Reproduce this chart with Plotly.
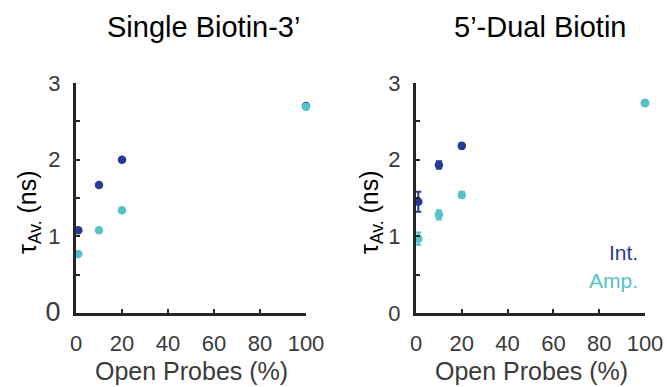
import plotly.graph_objects as go

# ---- data ----
open_probes = [1, 10, 20, 100]
single_int = [1.08, 1.67, 2.00, 2.70]
single_amp = [0.77, 1.08, 1.34, 2.69]
dual_int = [1.45, 1.93, 2.18, 2.74]
dual_int_err = [0.13, 0.05, 0.03, 0.02]
dual_amp = [0.97, 1.28, 1.54, 2.74]
dual_amp_err = [0.08, 0.06, 0.04, 0.02]

panel_titles = ["Single Biotin-3\u2019", "5\u2019-Dual Biotin"]
x_tickvals = [0, 20, 40, 60, 80, 100]
y_tickvals = [0, 0.5, 1, 1.5, 2, 2.5, 3]
y_ticktext_left = ['<span style="font-size:27px">0</span>', "", "1", "", "2", "", "3"]
y_ticktext_right = ["0", "", "1", "", "2", "", "3"]

INT_C = "#283a94"
AMP_C = "#52c4c8"
AX_C = "#262626"
TICK_C = "#3a3a3a"
W, H = 667, 387

def px_x(p):
    return p / W

def px_y(p):
    return 1 - p / H

fig = go.Figure()

fig.add_trace(go.Scatter(x=open_probes, y=single_int, mode="markers", xaxis="x", yaxis="y",
                         marker=dict(color=INT_C, size=8.5), cliponaxis=False, showlegend=False))
fig.add_trace(go.Scatter(x=open_probes, y=single_amp, mode="markers", xaxis="x", yaxis="y",
                         marker=dict(color=AMP_C, size=8.5), cliponaxis=False, showlegend=False))
fig.add_trace(go.Scatter(x=open_probes, y=dual_int, mode="markers", xaxis="x2", yaxis="y2",
                         error_y=dict(type="data", array=dual_int_err, color=INT_C, thickness=2, width=3),
                         marker=dict(color=INT_C, size=8.5), cliponaxis=False, showlegend=False))
fig.add_trace(go.Scatter(x=open_probes, y=dual_amp, mode="markers", xaxis="x2", yaxis="y2",
                         error_y=dict(type="data", array=dual_amp_err, color=AMP_C, thickness=2, width=3),
                         marker=dict(color=AMP_C, size=8.5), cliponaxis=False, showlegend=False))

y_dom = [px_y(313), px_y(83)]
x_doms = [[px_x(76), px_x(306)], [px_x(416), px_x(645)]]

common_x = dict(range=[0, 100], tickvals=x_tickvals, ticks="inside", ticklen=4, tickwidth=2,
                tickcolor=AX_C, showline=True, linecolor=AX_C, linewidth=3, showgrid=False,
                zeroline=False, automargin=False,
                tickfont=dict(family="Liberation Sans, Arial", size=22, color=TICK_C),
                ticklabelstandoff=9)
common_y = dict(range=[0, 3], tickvals=y_tickvals, ticks="inside", ticklen=4, tickwidth=2,
                tickcolor=AX_C, showline=True, linecolor=AX_C, linewidth=3, showgrid=False,
                zeroline=False, automargin=False,
                tickfont=dict(family="Liberation Sans, Arial", size=22, color=TICK_C),
                ticklabelstandoff=8)

fig.update_layout(
    width=W, height=H, margin=dict(l=0, r=0, t=0, b=0, autoexpand=False),
    paper_bgcolor="white", plot_bgcolor="white",
    xaxis=dict(domain=x_doms[0], anchor="y", **common_x),
    yaxis=dict(domain=y_dom, anchor="x", ticktext=y_ticktext_left, **common_y),
    xaxis2=dict(domain=x_doms[1], anchor="y2", **common_x),
    yaxis2=dict(domain=y_dom, anchor="x2", ticktext=y_ticktext_right, **common_y),
)

font_main = "Liberation Sans, Arial"
anns = []
title_cx = [203, 540]
xtitle_cx = [191, 531]
ytitle_cx = [29, 371]
for i in range(2):
    anns.append(dict(text=panel_titles[i], x=px_x(title_cx[i]), y=px_y(27), xref="paper", yref="paper",
                     showarrow=False, xanchor="center", yanchor="middle",
                     font=dict(family=font_main, size=29, color="black")))
    anns.append(dict(text="Open Probes (%)", x=px_x(xtitle_cx[i]), y=px_y(371), xref="paper", yref="paper",
                     showarrow=False, xanchor="center", yanchor="middle",
                     font=dict(family=font_main, size=25, color=TICK_C)))
    anns.append(dict(text="\u03c4<sub>Av.</sub> (ns)", x=px_x(ytitle_cx[i]), y=px_y(212), xref="paper", yref="paper",
                     showarrow=False, xanchor="center", yanchor="middle", textangle=-90,
                     font=dict(family=font_main, size=25, color="black")))
anns.append(dict(text="Int.", x=px_x(640), y=px_y(252), xref="paper", yref="paper", showarrow=False,
                 xanchor="right", yanchor="middle", font=dict(family=font_main, size=21, color=INT_C)))
anns.append(dict(text="Amp.", x=px_x(640), y=px_y(280), xref="paper", yref="paper", showarrow=False,
                 xanchor="right", yanchor="middle", font=dict(family=font_main, size=21, color=AMP_C)))
fig.update_layout(annotations=anns)

fig.write_html("out.html", config={"displayModeBar": False},
               post_script="document.body.style.margin='0';document.body.style.overflow='hidden';")
